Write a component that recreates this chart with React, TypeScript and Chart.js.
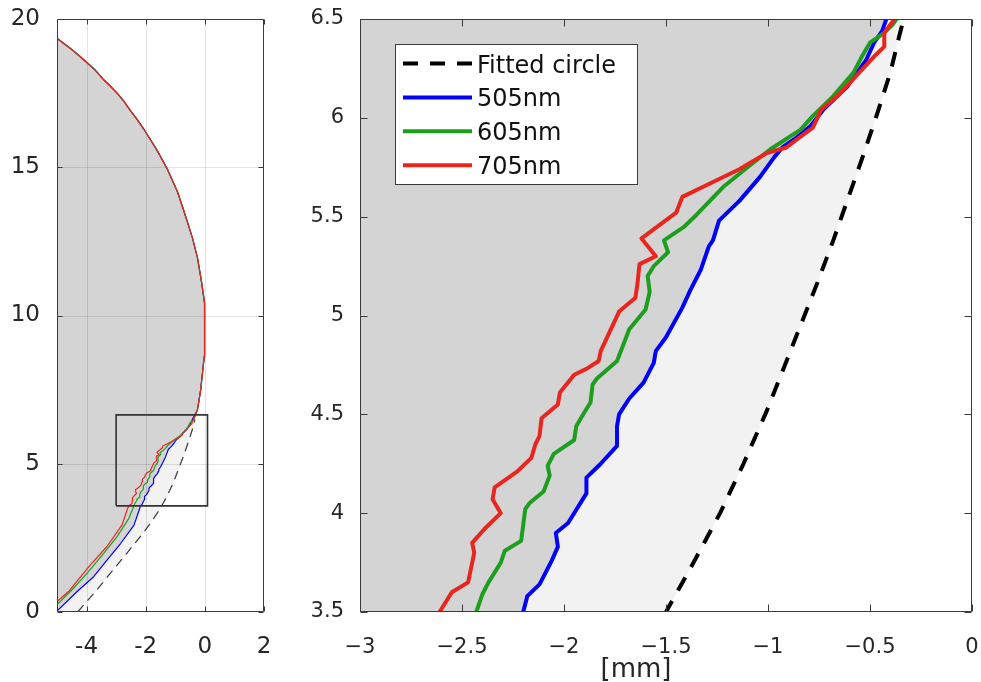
import { useEffect, useRef } from 'react';
import { Chart, registerables } from 'chart.js';

Chart.register(...registerables);

// ---------- data (mm) ----------
const BLUE_Y = [0.03, 0.69, 1.19, 1.75, 2.31, 2.92, 3.50, 3.58, 3.64, 3.76, 3.83, 3.90, 3.95, 4.10, 4.18, 4.25, 4.34, 4.44, 4.50, 4.58, 4.66, 4.76, 4.82, 4.89, 5.04, 5.13, 5.23, 5.35, 5.38, 5.48, 5.58, 5.70, 5.80, 5.85, 5.90, 5.96, 6.04, 6.16, 6.29, 6.38, 6.44, 6.50];
const BLUE_X = [-5.00, -4.32, -3.76, -3.31, -2.85, -2.40, -2.20, -2.18, -2.12, -2.06, -2.03, -2.04, -1.98, -1.89, -1.89, -1.82, -1.74, -1.74, -1.73, -1.68, -1.61, -1.56, -1.55, -1.50, -1.42, -1.38, -1.33, -1.29, -1.27, -1.24, -1.14, -1.04, -0.97, -0.93, -0.86, -0.79, -0.73, -0.61, -0.52, -0.48, -0.44, -0.42];

const GREEN_Y = [0.25, 0.75, 1.31, 1.98, 2.54, 3.16, 3.50, 3.59, 3.65, 3.75, 3.81, 3.86, 4.02, 4.05, 4.11, 4.19, 4.24, 4.30, 4.37, 4.44, 4.51, 4.56, 4.65, 4.68, 4.77, 4.93, 5.03, 5.12, 5.20, 5.25, 5.32, 5.38, 5.45, 5.51, 5.65, 5.75, 5.84, 5.94, 6.01, 6.11, 6.23, 6.31, 6.38, 6.43, 6.47, 6.50];
const GREEN_X = [-5.00, -4.49, -3.98, -3.42, -2.97, -2.57, -2.43, -2.40, -2.37, -2.31, -2.29, -2.21, -2.19, -2.17, -2.10, -2.07, -2.08, -2.05, -1.95, -1.94, -1.90, -1.87, -1.86, -1.84, -1.74, -1.68, -1.60, -1.58, -1.59, -1.56, -1.49, -1.51, -1.41, -1.35, -1.22, -1.10, -0.99, -0.84, -0.78, -0.68, -0.58, -0.54, -0.50, -0.43, -0.39, -0.37];

const RED_Y = [0.35, 0.69, 1.03, 1.59, 2.21, 2.94, 3.50, 3.60, 3.65, 3.80, 3.85, 3.92, 4.00, 4.07, 4.13, 4.21, 4.28, 4.35, 4.39, 4.48, 4.55, 4.61, 4.70, 4.73, 4.77, 4.82, 5.02, 5.09, 5.16, 5.26, 5.30, 5.39, 5.52, 5.60, 5.66, 5.74, 5.82, 5.85, 5.89, 5.95, 6.04, 6.12, 6.21, 6.31, 6.36, 6.43, 6.50];
const RED_X = [-5.00, -4.61, -4.33, -3.87, -3.31, -2.80, -2.61, -2.55, -2.47, -2.44, -2.45, -2.39, -2.31, -2.35, -2.34, -2.23, -2.16, -2.14, -2.12, -2.11, -2.03, -2.02, -1.95, -1.89, -1.83, -1.82, -1.73, -1.65, -1.64, -1.63, -1.55, -1.62, -1.45, -1.42, -1.30, -1.14, -1.01, -0.91, -0.86, -0.78, -0.74, -0.65, -0.57, -0.48, -0.43, -0.43, -0.38];

// common upper profile (all wavelengths coincide)
const TOP_Y = [6.82, 7.50, 8.06, 8.62, 9.29, 10.42, 11.12, 11.95, 12.62, 13.50, 14.18, 14.94, 15.56, 16.28, 16.60, 16.90, 17.23, 17.50, 17.74, 17.95, 18.27, 18.54, 18.76, 18.97, 19.16, 19.35];
const TOP_X = [-0.25, -0.14, -0.08, -0.02, 0.00, -0.02, -0.11, -0.25, -0.42, -0.70, -0.93, -1.27, -1.61, -2.06, -2.28, -2.51, -2.74, -2.97, -3.20, -3.42, -3.70, -4.00, -4.25, -4.50, -4.75, -5.00];

const CIRCLE_Y = [0.00, 0.69, 1.25, 1.98, 2.65, 3.05, 3.50, 3.75, 4.00, 4.25, 4.52, 4.82, 5.16, 5.38, 5.60, 5.82, 6.02, 6.23, 6.42, 6.50];
const CIRCLE_X = [-4.30, -3.70, -3.24, -2.64, -2.10, -1.80, -1.50, -1.365, -1.235, -1.12, -1.005, -0.89, -0.76, -0.68, -0.605, -0.53, -0.465, -0.40, -0.355, -0.335];

const LIGHT_CORNER_X = [-5, -5];
const LIGHT_CORNER_Y = [6.5, 0];

const BOX_X = [-3, 0.09, 0.09, -3, -3];
const BOX_Y = [3.58, 3.58, 6.65, 6.65, 3.58];

const LEFT_X_TICKS = [-4, -2, 0, 2];
const LEFT_Y_TICKS = [0, 5, 10, 15, 20];
const RIGHT_X_TICKS = [-3, -2.5, -2, -1.5, -1, -0.5, 0];
const RIGHT_Y_TICKS = [3.5, 4, 4.5, 5, 5.5, 6, 6.5];

const LABELS = ['Fitted circle', '505nm', '605nm', '705nm'];

// ---------- styles ----------
const FONT = '"DejaVu Sans", sans-serif';
const TEXT = '#262626';
const FRAME = '#3a3a3a';
const DARK = '#d4d4d4';
const LIGHT = '#f2f2f2';
const C_BLUE = '#0000ff';
const C_GREEN = '#1e9e1e';
const C_RED = '#e8261e';

const pts = (xs: number[], ys: number[]) => xs.map((x, i) => ({ x, y: ys[i] }));
const hyphenLabel = (v: number) => String(v);
const minusLabel = (v: number) => (v < 0 ? '\u2212' + String(-v) : String(v));

type PanelCfg = {
  xMin: number; xMax: number; yMin: number; yMax: number;
  xTicks: number[]; yTicks: number[]; fmt: (v: number) => string;
  fontSize: number; lw: number; dashColor: string; dash: number[];
  grid: boolean; box: boolean; legend: boolean; xlabel: boolean;
  tickLen: number; yAxisWidth: number; padRight: number; padX: number; padY: number;
};

const decorPlugin = {
  id: 'decor',
  afterDatasetDraw(chart: any, args: any, opts: any) {
    if (!opts.grid || args.index !== 1) return;
    const { ctx, chartArea: a, scales } = chart;
    const x = scales.x, y = scales.y;
    ctx.save();
    ctx.strokeStyle = 'rgba(0,0,0,0.11)';
    ctx.lineWidth = 1;
    ctx.beginPath();
    for (const v of opts.xTicks) {
      if (v <= x.min || v >= x.max) continue;
      const px = Math.round(x.getPixelForValue(v)) + 0.5;
      ctx.moveTo(px, a.top); ctx.lineTo(px, a.bottom);
    }
    for (const v of opts.yTicks) {
      if (v <= y.min || v >= y.max) continue;
      const py = Math.round(y.getPixelForValue(v)) + 0.5;
      ctx.moveTo(a.left, py); ctx.lineTo(a.right, py);
    }
    ctx.stroke();
    ctx.restore();
  },
  afterDraw(chart: any, _args: any, opts: any) {
    const { ctx, chartArea: a, scales } = chart;
    const x = scales.x, y = scales.y;
    const L = Math.round(a.left) + 0.5, R = Math.round(a.right) - 0.5;
    const T = Math.round(a.top) + 0.5, B = Math.round(a.bottom) - 0.5;
    ctx.save();
    ctx.strokeStyle = FRAME;
    ctx.lineWidth = 1;
    ctx.beginPath();
    ctx.rect(L, T, R - L, B - T);
    const tl = opts.tickLen;
    for (const v of opts.xTicks) {
      const px = Math.round(x.getPixelForValue(v)) + 0.5;
      ctx.moveTo(px, B); ctx.lineTo(px, B - tl);
      ctx.moveTo(px, T); ctx.lineTo(px, T + tl);
    }
    for (const v of opts.yTicks) {
      const py = Math.round(y.getPixelForValue(v)) + 0.5;
      ctx.moveTo(L, py); ctx.lineTo(L + tl, py);
      ctx.moveTo(R, py); ctx.lineTo(R - tl, py);
    }
    ctx.stroke();

    if (opts.legend) {
      const bx = Math.round(a.left) + 35, by = Math.round(a.top) + 25;
      const bw = 242, bh = 140;
      ctx.fillStyle = '#ffffff';
      ctx.fillRect(bx, by, bw, bh);
      ctx.strokeStyle = FRAME;
      ctx.lineWidth = 1;
      ctx.strokeRect(bx + 0.5, by + 0.5, bw, bh);
      const entries = chart.data.datasets.filter((d: any) => LABELS.includes(d.label));
      entries.sort((p: any, q: any) => LABELS.indexOf(p.label) - LABELS.indexOf(q.label));
      ctx.font = `24px ${FONT}`;
      ctx.textBaseline = 'alphabetic';
      ctx.textAlign = 'left';
      entries.forEach((d: any, i: number) => {
        const ry = by + 19.5 + i * 33.9;
        ctx.beginPath();
        ctx.strokeStyle = d.borderColor;
        ctx.lineWidth = d.borderWidth;
        ctx.setLineDash(d.borderDash || []);
        ctx.moveTo(bx + 8, ry); ctx.lineTo(bx + 77, ry);
        ctx.stroke();
        ctx.setLineDash([]);
        ctx.fillStyle = '#111111';
        ctx.fillText(d.label, bx + 82, ry + 9);
      });
    }
    if (opts.xlabel) {
      ctx.font = `26px ${FONT}`;
      ctx.fillStyle = TEXT;
      ctx.textAlign = 'center';
      ctx.textBaseline = 'alphabetic';
      ctx.fillText('[mm]', Math.round(a.left) + 276, 677);
    }
    ctx.restore();
  },
};

function makeConfig(p: PanelCfg): any {
  const blue = pts(BLUE_X.concat(TOP_X), BLUE_Y.concat(TOP_Y));
  const green = pts(GREEN_X.concat(TOP_X), GREEN_Y.concat(TOP_Y));
  const red = pts(RED_X.concat(TOP_X), RED_Y.concat(TOP_Y));
  const line = (label: string, data: any[], color: string, order: number, extra: any = {}) => ({
    label, data, borderColor: color, backgroundColor: color, borderWidth: p.lw,
    showLine: true, pointRadius: 0, pointHoverRadius: 0, fill: false, order,
    borderJoinStyle: 'round', borderCapStyle: 'butt', ...extra,
  });
  const datasets: any[] = [
    {
      label: 'lightFill', data: pts(CIRCLE_X.concat(LIGHT_CORNER_X), CIRCLE_Y.concat(LIGHT_CORNER_Y)),
      showLine: true, fill: 'shape', backgroundColor: LIGHT, borderColor: 'rgba(0,0,0,0)', borderWidth: 0,
      pointRadius: 0, order: 7,
    },
    {
      label: 'darkFill', data: blue,
      showLine: true, fill: 'shape', backgroundColor: DARK, borderColor: 'rgba(0,0,0,0)', borderWidth: 0,
      pointRadius: 0, order: 6,
    },
    line('Fitted circle', pts(CIRCLE_X, CIRCLE_Y), p.dashColor, 5, { borderDash: p.dash, borderJoinStyle: 'miter' }),
    line('505nm', blue, C_BLUE, 4),
    line('605nm', green, C_GREEN, 3),
    line('705nm', red, C_RED, 2),
  ];
  if (p.box) {
    datasets.push({
      label: 'zoomBox', data: pts(BOX_X, BOX_Y), showLine: true, borderColor: '#333333', borderWidth: 1.6,
      pointRadius: 0, fill: false, order: 1, borderJoinStyle: 'miter',
    });
  }
  const tickFont = { family: FONT, size: p.fontSize };
  return {
    type: 'scatter',
    data: { datasets },
    options: {
      animation: false,
      responsive: false,
      devicePixelRatio: 1,
      events: [],
      layout: { padding: { top: 19, right: p.padRight, left: 0, bottom: 0 } },
      plugins: {
        legend: { display: false },
        tooltip: { enabled: false },
        decor: { grid: p.grid, legend: p.legend, xlabel: p.xlabel, xTicks: p.xTicks, yTicks: p.yTicks, tickLen: p.tickLen },
      },
      scales: {
        x: {
          type: 'linear', min: p.xMin, max: p.xMax,
          afterBuildTicks: (s: any) => { s.ticks = p.xTicks.map((v) => ({ value: v })); },
          afterFit: (s: any) => { s.height = 70; s.paddingLeft = 0; s.paddingRight = 0; },
          grid: { display: false }, border: { display: false },
          ticks: { font: tickFont, color: TEXT, padding: p.padX, autoSkip: false, maxRotation: 0, callback: (v: any) => p.fmt(Number(v)) },
        },
        y: {
          type: 'linear', min: p.yMin, max: p.yMax,
          afterBuildTicks: (s: any) => { s.ticks = p.yTicks.map((v) => ({ value: v })); },
          afterFit: (s: any) => { s.width = p.yAxisWidth; s.paddingTop = 0; s.paddingBottom = 0; },
          grid: { display: false }, border: { display: false },
          ticks: { font: tickFont, color: TEXT, padding: p.padY, autoSkip: false, callback: (v: any) => p.fmt(Number(v)) },
        },
      },
    },
    plugins: [decorPlugin],
  };
}

const LEFT_CFG: PanelCfg = {
  xMin: -5, xMax: 2, yMin: 0, yMax: 20, xTicks: LEFT_X_TICKS, yTicks: LEFT_Y_TICKS, fmt: hyphenLabel,
  fontSize: 23, lw: 1.2, dashColor: '#3a3a3a', dash: [9, 6], grid: true, box: true, legend: false, xlabel: false,
  tickLen: 5, yAxisWidth: 57, padRight: 26, padX: 13, padY: 9,
};
const RIGHT_CFG: PanelCfg = {
  xMin: -3, xMax: 0, yMin: 3.5, yMax: 6.5, xTicks: RIGHT_X_TICKS, yTicks: RIGHT_Y_TICKS, fmt: minusLabel,
  fontSize: 21, lw: 4, dashColor: '#000000', dash: [15, 12], grid: false, box: false, legend: true, xlabel: true,
  tickLen: 7, yAxisWidth: 60, padRight: 9, padX: 15, padY: 8,
};

function Panel({ cfg, left, width }: { cfg: PanelCfg; left: number; width: number }) {
  const ref = useRef<HTMLCanvasElement>(null);
  useEffect(() => {
    const chart = new Chart(ref.current as HTMLCanvasElement, makeConfig(cfg));
    return () => chart.destroy();
  }, [cfg]);
  return (
    <canvas
      ref={ref}
      width={width}
      height={682}
      style={{ position: 'absolute', left, top: 0, width, height: 682, display: 'block' }}
    />
  );
}

export default function App() {
  return (
    <div style={{ position: 'absolute', left: 0, top: 0, width: 981, height: 682, background: '#ffffff', overflow: 'hidden' }}>
      <Panel cfg={LEFT_CFG} left={0} width={290} />
      <Panel cfg={RIGHT_CFG} left={300} width={681} />
    </div>
  );
}
